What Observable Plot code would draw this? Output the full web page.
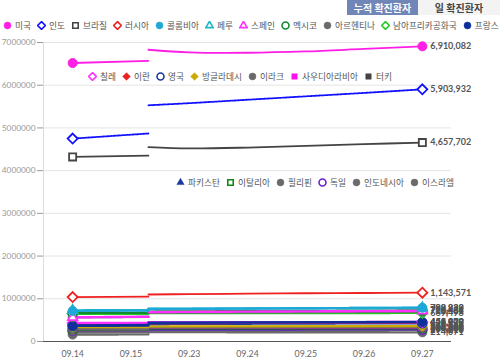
<!DOCTYPE html>
<html><head><meta charset="utf-8">
<script src="https://cdn.jsdelivr.net/npm/d3@7"></script>
<script src="https://cdn.jsdelivr.net/npm/@observablehq/plot@0.6"></script>
<style>
body{margin:0;background:#fff;font-family:Lato,"Noto Sans CJK KR",sans-serif;}
#wrap{position:relative;width:500px;height:359px;overflow:hidden;}
#chart{position:absolute;left:0;top:0;}
.btn{position:absolute;top:0;height:15px;line-height:15px;font-size:10px;font-weight:bold;text-align:center;font-family:"Noto Sans CJK KR",sans-serif;}
.leg{position:absolute;display:flex;align-items:center;background:#fff;font-size:8.7px;color:#555;white-space:nowrap;font-family:"Noto Sans CJK KR",sans-serif;height:13px;}
.item{display:flex;align-items:center;margin-right:6px;}
.item svg{margin-right:3px;}
</style></head>
<body>
<div id="wrap">
<div id="chart"></div>
<div class="btn" style="left:347px;width:71px;background:#6f86b6;color:#fff;">누적 확진환자</div>
<div class="btn" style="left:418px;width:82px;background:#f3f3f3;color:#444;">일 확진환자</div>
<div class="leg" id="leg1" style="left:3px;top:19px;"></div>
<div class="leg" id="leg2" style="left:88px;top:70px;padding-right:4px;"></div>
<div class="leg" id="leg3" style="left:176px;top:176px;"></div>
</div>
<script>
// ---- data ----
const dates = ["09.14","09.15","09.23","09.24","09.25","09.26","09.27"];
const breakAt = 1.3; // where the drawn line breaks (between 09.15 and 09.23)
const countries = ["미국","인도","브라질","러시아","콜롬비아","페루","스페인","멕시코","아르헨티나","남아프리카공화국","프랑스",
  "칠레","이란","영국","방글라데시","이라크","사우디아라비아","터키",
  "파키스탄","이탈리아","필리핀","독일","인도네시아","이스라엘"];
const v0914 = [6520000,4750000,4320000,1040000,716000,729000,566000,668000,565000,649000,374000,
  432000,402000,368000,339000,294000,325000,291000,302000,288000,266000,262000,222000,162000];
const vBreakLeft = [6570000,4870000,4350000,1050000,725000,735000,580000,672000,577000,650000,385000,
  434000,405000,372000,341000,298000,326000,293000,303000,290000,272000,263000,225000,168000];
const vBreakRight = [6830000,5530000,4550000,1100000,760000,765000,690000,700000,670000,665000,440000,
  450000,430000,410000,355000,330000,331000,310000,308000,303000,295000,280000,262000,220000];
const v0923 = [6770000,5580000,4520000,1110000];
const v0924 = [6760000,5660000,4540000,1120000];
const v0925 = [6790000,5740000,4580000,1130000];
const v0926 = [6850000,5820000,4620000,1136000];
const v0927 = [6910082,5903932,4657702,1143571,790823,788930,716481,726431,702484,669498,458000,
  455979,446448,429277,359148,341000,332329,314433,310841,308104,304226,284808,275213,214071];
const yTicks = [0,1000000,2000000,3000000,4000000,5000000,6000000,7000000];

// ---- styles ----
const colors = ["#ff1ee6","#1010ff","#444444","#ee2020","#1ea8d8","#20b8c8","#ff30ff","#128a30","#6a6a6a","#22cc22","#0c2f9c",
  "#ff30ff","#ee2020","#1a3a9e","#ccaa00","#6a6a6a","#ff10f0","#444444",
  "#1a3a9e","#118811","#6a6a6a","#6622cc","#6a6a6a","#6a6a6a"];
const symbols = ["circle","diamond2","square2","diamond2","circle","triangle2","triangle2","circle","circle","diamond2","circle",
  "diamond2","diamond2","circle","diamond2","circle","square2","square2",
  "triangle2","square2","circle","circle","circle","circle"];
const hollow = [false,true,true,true,false,true,true,true,false,true,false,
  true,false,true,false,false,false,false,false,true,false,true,false,false];
const dashes = [null,"1.5,1.2",null,null,"2,1","1.5,1","2,1","1.5,1",null,"2,1",null,
  "1.5,1","2,1","1.5,1",null,"2,1","1.5,1",null,"2,1","1.5,1",null,"2,1",null,"1.5,1"];

const fmt = d3.format(",");
const marks = [
  Plot.gridY(yTicks, {stroke:"#e4e4e4", strokeOpacity:1}),
  Plot.frame({anchor:"left", stroke:"#dddddd"}),
  Plot.axisY(yTicks, {tickFormat:d3.format("d"), tickSize:6, tickPadding:2, color:"#999", fontSize:8.3, label:null}),
  Plot.axisX(d3.range(dates.length), {tickFormat:i=>dates[i], tickSize:0, tickPadding:9, color:"#666", fontSize:8.8, label:null})
];
const order = d3.range(countries.length).reverse();
for (const i of order) {
  const big = i < 4;
  const seg1 = [{x:0,y:v0914[i]},{x:breakAt,y:vBreakLeft[i]}];
  const seg2 = [{x:breakAt,y:vBreakRight[i]}];
  [v0923,v0924,v0925,v0926].forEach((arr,k)=>{ if (arr[i] != null) seg2.push({x:k+2,y:arr[i]}); });
  seg2.push({x:6,y:v0927[i]});
  const opts = {x:"x", y:"y", stroke:colors[i], strokeWidth: big ? 1.8 : 2.4, strokeDasharray: dashes[i] || undefined};
  marks.push(Plot.line(seg1, opts));
  marks.push(Plot.line(seg2, {...opts, curve: big ? "catmull-rom" : "linear"}));
}
marks.push(Plot.ruleY([0], {stroke:"#555", strokeWidth:1.2}));
const pts = [];
for (const i of order) {
  pts.push({x:0, y:v0914[i], i});
  pts.push({x:6, y:v0927[i], i});
}
marks.push(Plot.dot(pts, {x:"x", y:"y", r:4.5,
  symbol:d=>symbols[d.i], stroke:d=>colors[d.i], fill:d=>hollow[d.i] ? "white" : colors[d.i], strokeWidth:d=>hollow[d.i]?1.8:1}));
marks.push(Plot.text(order, {x:()=>6, y:i=>v0927[i], text:i=>fmt(v0927[i]), dx:8, textAnchor:"start",
  fontWeight:"bold", fill:"#555", fontSize:9}));

const chart = Plot.plot({
  width:500, height:359,
  marginLeft:43, marginRight:49, marginTop:42, marginBottom:18,
  x:{domain:[-0.5,6.5], axis:null},
  y:{domain:[0,7000000], axis:null},
  style:{fontFamily:"Lato, 'Noto Sans CJK KR', sans-serif", background:"transparent"},
  marks
});
document.getElementById("chart").appendChild(chart);

// ---- legends ----
const symMap = {circle:d3.symbolCircle, diamond2:d3.symbolDiamond2, square2:d3.symbolSquare2, triangle2:d3.symbolTriangle2};
function fillLegend(id, idx) {
  const el = document.getElementById(id);
  for (const i of idx) {
    const item = document.createElement("div");
    item.className = "item";
    const s = d3.create("svg").attr("width",9).attr("height",9);
    s.append("path").attr("transform","translate(4.5,4.5)")
      .attr("d", d3.symbol(symMap[symbols[i]], 38)())
      .attr("fill", hollow[i] ? "white" : colors[i])
      .attr("stroke", colors[i]).attr("stroke-width", hollow[i] ? 1.6 : 0.5);
    item.appendChild(s.node());
    const t = document.createElement("span");
    t.textContent = countries[i];
    item.appendChild(t);
    el.appendChild(item);
  }
}
fillLegend("leg1", d3.range(0,11));
fillLegend("leg2", d3.range(11,18));
fillLegend("leg3", d3.range(18,24));
</script>
</body></html>
